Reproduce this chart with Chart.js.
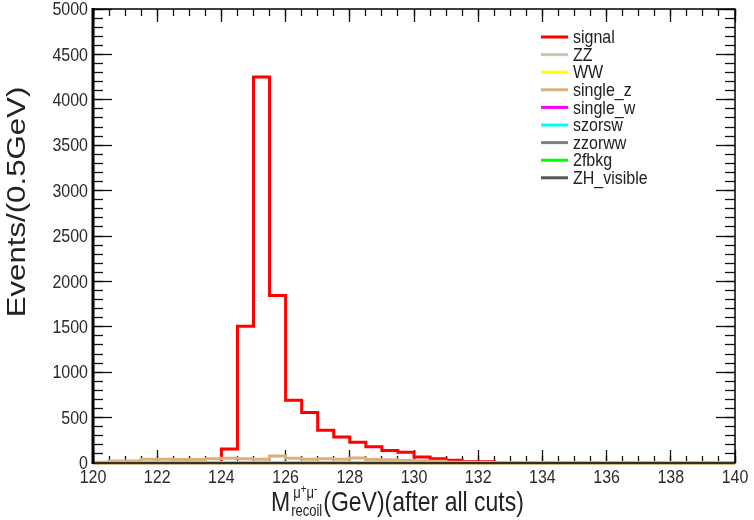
<!DOCTYPE html>
<html>
<head>
<meta charset="utf-8">
<script src="https://cdn.jsdelivr.net/npm/chart.js@4"></script>
<style>
  html, body { margin: 0; padding: 0; background: #fff; }
</style>
</head>
<body>
<canvas id="cht" width="754" height="520"></canvas>
<script>
// bin edges, 0.5 GeV wide, 120 -> 140
const binEdges = [120, 120.5, 121, 121.5, 122, 122.5, 123, 123.5, 124, 124.5,
                  125, 125.5, 126, 126.5, 127, 127.5, 128, 128.5, 129, 129.5,
                  130, 130.5, 131, 131.5, 132, 132.5, 133, 133.5, 134, 134.5,
                  135, 135.5, 136, 136.5, 137, 137.5, 138, 138.5, 139, 139.5, 140];

// events per bin
const signal  = [0, 0, 0, 0, 0, 0, 0, 4, 155, 1505,
                 4250, 1845, 690, 555, 360, 285, 228, 180, 137, 118,
                 65, 48, 30, 15, 13, 4, 0, 0, 0, 0,
                 0, 0, 0, 0, 0, 0, 0, 0, 0, 0];
const singleZ = [8, 22, 22, 42, 42, 38, 38, 48, 52, 46,
                 42, 78, 52, 42, 48, 40, 55, 38, 36, 28,
                 22, 20, 8, 4, 0, 0, 0, 0, 0, 0,
                 0, 0, 0, 0, 0, 0, 0, 0, 0, 0];
// the other backgrounds are empty after all cuts
const emptyBkg = [0, 0, 0, 0, 0, 0, 0, 0, 0, 0,
                  0, 0, 0, 0, 0, 0, 0, 0, 0, 0,
                  0, 0, 0, 0, 0, 0, 0, 0, 0, 0,
                  0, 0, 0, 0, 0, 0, 0, 0, 0, 0];

const names  = ["signal", "ZZ", "WW", "single_z", "single_w", "szorsw", "zzorww", "2fbkg", "ZH_visible"];
const colors = ["#ff0000", "#c8c6b2", "#ffff00", "#d9b07a", "#ff00ff", "#00ffff", "#808080", "#00ff00", "#555555"];
const series = [signal, emptyBkg, emptyBkg, singleZ, emptyBkg, emptyBkg, emptyBkg, emptyBkg, emptyBkg];
const drawOrder = [2, 1, 1, 0, 1, 1, 1, 1, 1];

const yTicks = [0, 500, 1000, 1500, 2000, 2500, 3000, 3500, 4000, 4500, 5000];
const xTicks = [120, 122, 124, 126, 128, 130, 132, 134, 136, 138, 140];

// histogram outline: one point at each lower edge, plus the last upper edge
function steps(vals) {
  const pts = vals.map((v, i) => ({x: binEdges[i], y: v}));
  pts.push({x: binEdges[binEdges.length - 1], y: vals[vals.length - 1]});
  return pts;
}

const FONT = "'Liberation Sans', Arial, sans-serif";
const SY = 1.2; // text in the picture is a bit taller than wide

function tallText(ctx, txt, x, y) {
  ctx.save();
  ctx.translate(x, y);
  ctx.scale(1, SY);
  ctx.fillText(txt, 0, 0);
  ctx.restore();
}

// ROOT-like axes: tick marks point into the pad (negative tickLength),
// one scale for the major and one for the minor ticks on every side
function tickAxis(axis, position, min, max, step, len, size, weight) {
  return {
    type: "linear", axis: axis, position: position, min: min, max: max, weight: weight,
    afterFit: s => { if (axis === "x") s.height = size; else s.width = size; },
    ticks: { display: false, stepSize: step },
    grid: { display: true, drawOnChartArea: false, drawTicks: true, tickLength: -len,
            tickColor: "#111", tickWidth: 1.3 },
    border: { display: false }
  };
}

function drawFrame(chart) {
  const ctx = chart.ctx;
  const a = chart.chartArea;
  ctx.save();
  ctx.strokeStyle = "#000";
  ctx.lineWidth = 1.5;
  ctx.strokeRect(a.left, a.top, a.right - a.left, a.bottom - a.top);
  ctx.fillStyle = "#000";
  ctx.fillRect(a.left - 1.5, a.top - 1, 3, a.bottom - a.top + 2);
  ctx.restore();
}

function drawTexts(chart) {
  const ctx = chart.ctx;
  const scales = chart.scales;
  // tick labels
  ctx.save();
  ctx.fillStyle = "#2b2b2b";
  ctx.font = "16px " + FONT;
  ctx.textBaseline = "middle";
  ctx.textAlign = "right";
  yTicks.forEach(v => tallText(ctx, String(v), 88, scales.y.getPixelForValue(v) + 1));
  ctx.textAlign = "center";
  xTicks.forEach(v => tallText(ctx, String(v), scales.x.getPixelForValue(v), 478));
  ctx.restore();

  // y title
  ctx.save();
  ctx.fillStyle = "#222";
  ctx.translate(18, 202);
  ctx.rotate(-Math.PI / 2);
  ctx.scale(SY, 1);
  ctx.font = "26px " + FONT;
  ctx.textAlign = "center";
  ctx.textBaseline = "middle";
  ctx.fillText("Events/(0.5GeV)", 0, 0);
  ctx.restore();

  // x title  M^{mu+mu-}_{recoil}(GeV)(after all cuts)
  ctx.save();
  ctx.fillStyle = "#222";
  ctx.textBaseline = "alphabetic";
  ctx.textAlign = "left";
  let x = 271;
  const base = 511;
  ctx.font = "23px " + FONT;
  tallText(ctx, "M", x, base);
  x += ctx.measureText("M").width + 1;
  ctx.font = "13px " + FONT;
  const sub = "recoil";
  tallText(ctx, sub, x, base + 5);
  const subW = ctx.measureText(sub).width;
  let sx = x + 2;
  const parts = [["μ", 13, -13], ["+", 10, -18], ["μ", 13, -13], ["-", 10, -18]];
  parts.forEach(p => {
    ctx.font = p[1] + "px " + FONT;
    tallText(ctx, p[0], sx, base + p[2]);
    sx += ctx.measureText(p[0]).width;
  });
  x += Math.max(subW, sx - x) + 1;
  ctx.font = "23px " + FONT;
  tallText(ctx, "(GeV)(after all cuts)", x, base);
  ctx.restore();

  // legend (no box, like the ROOT TLegend)
  ctx.save();
  ctx.font = "16px " + FONT;
  ctx.textBaseline = "middle";
  ctx.textAlign = "left";
  chart.data.datasets.forEach((ds, i) => {
    const y = 37 + i * 17.6;
    ctx.fillStyle = ds.borderColor;
    ctx.fillRect(541, y - 1.5, 27, 3);
    ctx.fillStyle = "#222";
    tallText(ctx, ds.label, 573, y + 1);
  });
  ctx.restore();
}

const rootStyle = {
  id: "rootStyle",
  afterDraw(chart) {
    drawFrame(chart);
    drawTexts(chart);
  }
};

new Chart("cht", {
  type: "line",
  data: {
    datasets: names.map((n, i) => ({
      label: n,
      data: steps(series[i]),
      borderColor: colors[i],
      backgroundColor: colors[i],
      borderWidth: 3,
      pointRadius: 0,
      fill: false,
      stepped: "before",
      clip: 3,
      order: drawOrder[i]
    }))
  },
  options: {
    responsive: false,
    animation: false,
    devicePixelRatio: 1,
    layout: { padding: { top: 9, right: 19, left: 0, bottom: 0 } },
    plugins: { legend: { display: false }, tooltip: { enabled: false } },
    scales: {
      x:      tickAxis("x", "bottom", 120, 140, 2, 13, 57, 1),
      xMinor: tickAxis("x", "bottom", 120, 140, 0.5, 7, 0, 0),
      xTop:   tickAxis("x", "top", 120, 140, 2, 13, 0, 1),
      xTopMinor: tickAxis("x", "top", 120, 140, 0.5, 7, 0, 0),
      y:      tickAxis("y", "left", 0, 5000, 500, 19, 93, 1),
      yMinor: tickAxis("y", "left", 0, 5000, 100, 10, 0, 0),
      yRight: tickAxis("y", "right", 0, 5000, 500, 19, 0, 1),
      yRightMinor: tickAxis("y", "right", 0, 5000, 100, 10, 0, 0)
    }
  },
  plugins: [rootStyle]
});
</script>
</body>
</html>
